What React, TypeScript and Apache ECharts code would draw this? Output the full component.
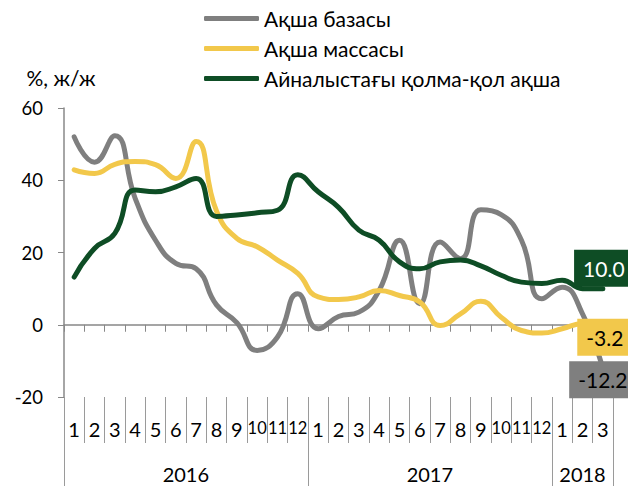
import React, { useEffect, useRef } from 'react';
import * as echarts from 'echarts';

// ---- Data ----
const monthLabels = ['1','2','3','4','5','6','7','8','9','10','11','12','1','2','3','4','5','6','7','8','9','10','11','12','1','2','3'];
const years = ['2016', '2017', '2018'];
const monthsPerYear = [12, 12, 3];
const seriesNames = ['Ақша базасы', 'Ақша массасы', 'Айналыстағы қолма-қол ақша'];
const baseMoney = [52, 45, 52.3, 35, 23.4, 17, 15.5, 5.5, 0.6, -7.1, -3.4, 8.6, -1.1, 2.3, 3.5, 9.5, 23.4, 5.8, 22.9, 18.3, 31.8, 30.5, 23.4, 7.2, 10.4, 3.0, -12.2];
const broadMoney = [42.9, 41.9, 44.4, 45.2, 44.3, 40.5, 50.7, 31.5, 23.9, 21.6, 17.9, 14.2, 7.7, 7.0, 7.7, 9.5, 8.1, 6.3, -0.2, 3.0, 6.5, 2.1, -1.6, -2.3, -1.1, 0.3, -3.2];
const cashInCirculation = [13.2, 21.1, 25.3, 37.3, 36.8, 38.2, 40.5, 30.0, 30.4, 31, 31.7, 41.5, 36.8, 32.5, 26.2, 23.4, 17.4, 15.5, 17.4, 17.9, 16.3, 13.7, 11.8, 11.4, 12.3, 10.0, 10.0];
const yAxisName = '%, ж/ж';
const yMin = -20;
const yMax = 60;
const yInterval = 20;

const COLORS = ['#7f7f7f', '#f2c84b', '#0e4d25'];
const FONT = 'Lato, "Noto Sans", sans-serif';
const TICK_COLOR = '#9a9a9a';
const AXIS_COLOR = '#888888';

export default function App() {
  const ref = useRef<HTMLDivElement>(null);

  useEffect(() => {
    if (!ref.current) return;
    const chart = echarts.init(ref.current, undefined, { renderer: 'svg' });

    const yearCats: string[] = [];
    const yearStarts: number[] = [];
    const yearLabelIdx: Record<number, { text: string; shift: boolean }> = {};
    let acc = 0;
    years.forEach((y, k) => {
      const n = monthsPerYear[k];
      yearStarts.push(acc);
      for (let i = 0; i < n; i++) yearCats.push(y);
      if (n % 2 === 0) yearLabelIdx[acc + n / 2 - 1] = { text: y, shift: true };
      else yearLabelIdx[acc + (n - 1) / 2] = { text: y, shift: false };
      acc += n;
    });

    const endLabel = (bg: string, color: string, position: string, offset: number[]) => ({
      show: true,
      position,
      offset,
      distance: 0,
      formatter: (p: any) => Number(p.value).toFixed(1),
      backgroundColor: bg,
      color,
      fontSize: 21,
      fontFamily: FONT,
      lineHeight: 22,
      padding: [8, 9, 7, 9],
    });

    const labelCfgs = [
      endLabel(COLORS[0], '#000', 'inside', [0, 11]),
      endLabel(COLORS[1], '#000', 'inside', [2, 1]),
      endLabel(COLORS[2], '#fff', 'top', [1, -1]),
    ];

    const mk = (name: string, values: number[], k: number) => ({
      name,
      type: 'line',
      xAxisIndex: 0,
      yAxisIndex: 0,
      data: values.map((v, i) => (i === values.length - 1 ? { value: v, label: labelCfgs[k] } : v)),
      smooth: 0.5,
      symbol: 'circle',
      symbolSize: 2,
      showSymbol: true,
      lineStyle: { width: 5, cap: 'round', join: 'round' },
      label: { show: false },
      emphasis: { disabled: true },
      z: 3 + k,
    });

    chart.setOption({
      animation: false,
      color: COLORS,
      textStyle: { fontFamily: FONT },
      legend: {
        orient: 'vertical',
        left: 199,
        top: 3,
        itemGap: 9,
        itemWidth: 55,
        itemHeight: 5,
        icon: 'roundRect',
        selectedMode: false,
        textStyle: { fontSize: 21, color: '#000', fontFamily: FONT },
        data: seriesNames,
      },
      grid: {
        left: 64,
        right: 15,
        top: 108,
        bottom: 89,
        containLabel: false,
        outerBoundsMode: 'none',
      },
      xAxis: [
        {
          type: 'category',
          data: monthLabels,
          position: 'bottom',
          boundaryGap: true,
          axisLine: { show: false, onZero: false },
          axisTick: { show: true, length: 46, lineStyle: { color: TICK_COLOR, width: 1 } },
          axisLabel: {
            interval: 0,
            margin: 22,
            fontSize: 20,
            color: '#000',
            fontFamily: FONT,
            hideOverlap: false,
            formatter: (v: string) => (v.length > 1 ? '{w|' + v + '}' : '{d|' + v + '}'),
            rich: {
              d: { fontSize: 20, fontFamily: FONT, color: '#000' },
              w: { fontSize: 16.5, fontFamily: FONT, color: '#000' },
            },
          },
          splitLine: { show: false },
        },
        {
          type: 'category',
          data: monthLabels,
          position: 'bottom',
          boundaryGap: true,
          axisLine: { show: true, onZero: true, onZeroAxisIndex: 0, lineStyle: { color: AXIS_COLOR, width: 1.5 } },
          axisTick: { show: true, length: 7, lineStyle: { color: AXIS_COLOR, width: 1 } },
          axisLabel: { show: false },
          splitLine: { show: false },
        },
        {
          type: 'category',
          data: yearCats,
          position: 'bottom',
          boundaryGap: true,
          axisLine: { show: false, onZero: false },
          axisTick: {
            show: true,
            length: 89,
            interval: (i: number) => yearStarts.indexOf(i) >= 0,
            lineStyle: { color: TICK_COLOR, width: 1 },
          },
          axisLabel: {
            interval: (i: number) => yearLabelIdx[i] !== undefined,
            margin: 67,
            fontSize: 20,
            color: '#000',
            fontFamily: FONT,
            formatter: (_v: string, i: number) => {
              const l = yearLabelIdx[i];
              if (!l) return '';
              return l.shift ? '{s|' + l.text + '}' : '{n|' + l.text + '}';
            },
            rich: {
              s: { fontSize: 20, fontFamily: FONT, color: '#000', padding: [0, 0, 0, 20] },
              n: { fontSize: 20, fontFamily: FONT, color: '#000' },
            },
          },
          splitLine: { show: false },
        },
      ],
      yAxis: {
        type: 'value',
        min: yMin,
        max: yMax,
        interval: yInterval,
        name: yAxisName,
        nameLocation: 'end',
        nameGap: 20,
        nameTextStyle: { fontSize: 21, color: '#000', fontFamily: FONT, padding: [0, 6, 0, 0] },
        axisLine: { show: true, lineStyle: { color: AXIS_COLOR, width: 1.5 } },
        axisTick: { show: true, length: 6, lineStyle: { color: AXIS_COLOR, width: 1 } },
        axisLabel: { margin: 21, fontSize: 18.5, color: '#000', fontFamily: FONT },
        splitLine: { show: false },
      },
      series: [
        mk(seriesNames[0], baseMoney, 0),
        mk(seriesNames[1], broadMoney, 1),
        mk(seriesNames[2], cashInCirculation, 2),
      ],
    });

    return () => chart.dispose();
  }, []);

  return (
    <div
      ref={ref}
      style={{ position: 'absolute', left: 0, top: 0, width: 628, height: 486 }}
    />
  );
}
